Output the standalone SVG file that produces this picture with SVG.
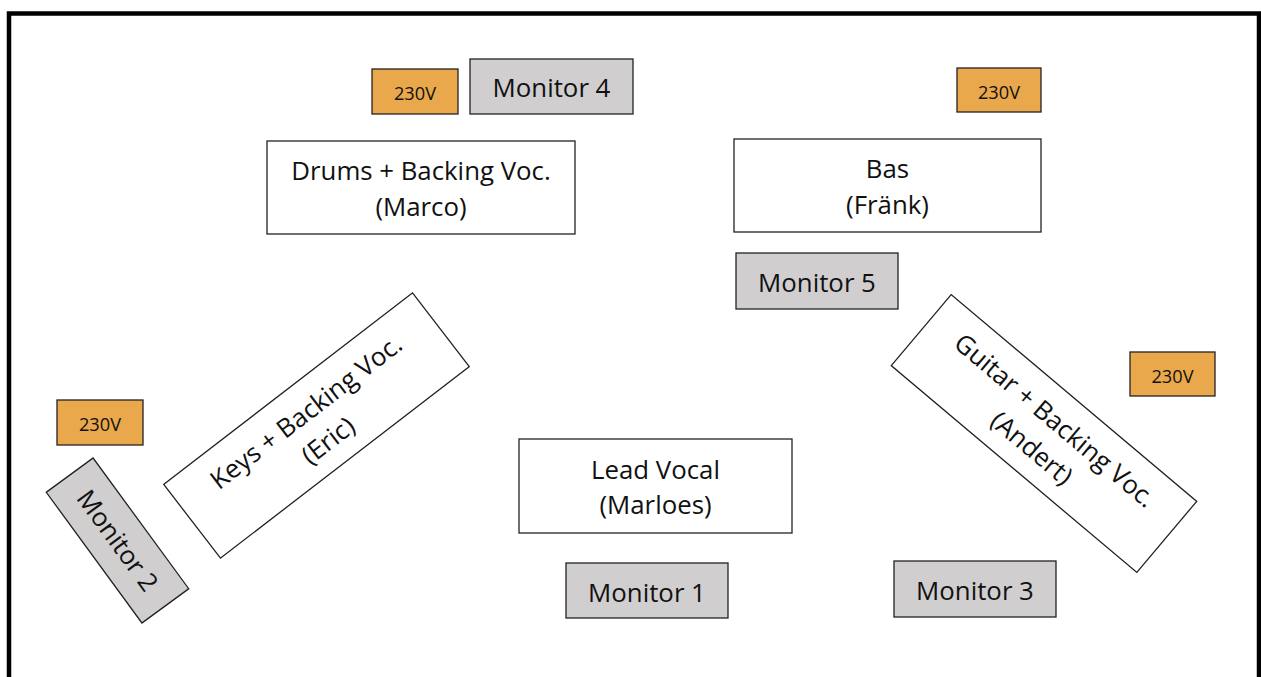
<svg xmlns="http://www.w3.org/2000/svg" width="1261" height="677" viewBox="0 0 1261 677">
<style>
.box{fill:#ffffff;stroke:#222;stroke-width:1.3}
.mon{fill:#d0cece;stroke:#222;stroke-width:1.3}
.pwr{fill:#e9a84b;stroke:#222;stroke-width:1.3}
text{font-family:"Open Sans","Liberation Sans",sans-serif;fill:#111;text-anchor:middle}
.big{font-size:25.8px}
.sm{font-size:18.2px}
</style>
<rect x="0" y="0" width="1261" height="677" fill="#ffffff"/>
<rect id="frame" x="9" y="13.5" width="1250" height="700" fill="none" stroke="#000" stroke-width="4.5"/>
<g id="connectors"></g>
<g id="pwr-top-left"><rect class="pwr" x="372" y="69" width="86" height="45"/><text class="sm" x="415" y="99.5">230V</text></g>
<g id="monitor4"><rect class="mon" x="470" y="59" width="163" height="55"/><text class="big" x="551.5" y="97">Monitor 4</text></g>
<g id="drums"><rect class="box" x="267" y="141" width="308" height="93"/><text class="big" x="421" y="180">Drums + Backing Voc.</text><text class="big" x="421" y="216">(Marco)</text></g>
<g id="pwr-top-right"><rect class="pwr" x="957" y="68" width="84" height="44"/><text class="sm" x="999" y="98.5">230V</text></g>
<g id="bas"><rect class="box" x="734" y="139" width="307" height="93"/><text class="big" x="887.5" y="178">Bas</text><text class="big" x="887.5" y="214">(Fränk)</text></g>
<g id="monitor5"><rect class="mon" x="736" y="253" width="162" height="56"/><text class="big" x="817" y="292">Monitor 5</text></g>
<g id="pwr-right"><rect class="pwr" x="1130" y="352" width="85" height="44"/><text class="sm" x="1172.5" y="382.5">230V</text></g>
<g id="pwr-left"><rect class="pwr" x="57" y="400" width="86" height="45"/><text class="sm" x="100" y="430.5">230V</text></g>
<g id="keys" transform="translate(316.5 425.5) rotate(-37.6)"><rect class="box" x="-157" y="-46.5" width="314" height="93"/><text class="big" x="0" y="-8">Keys + Backing Voc.</text><text class="big" x="0" y="28">(Eric)</text></g>
<g id="monitor2" transform="translate(117.5 540.5) rotate(53.8)"><rect class="mon" x="-81" y="-29" width="162" height="58"/><text class="big" x="0" y="9">Monitor 2</text></g>
<g id="lead"><rect class="box" x="519" y="439" width="273" height="94"/><text class="big" x="655.5" y="478.5">Lead Vocal</text><text class="big" x="655.5" y="514">(Marloes)</text></g>
<g id="monitor1"><rect class="mon" x="566" y="563" width="162" height="55"/><text class="big" x="647" y="601.5">Monitor 1</text></g>
<g id="guitar" transform="translate(1044 433.5) rotate(40.1)"><rect class="box" x="-160.5" y="-46.5" width="321" height="93"/><text class="big" x="0" y="-8">Guitar + Backing Voc.</text><text class="big" x="0" y="28">(Andert)</text></g>
<g id="monitor3"><rect class="mon" x="894" y="561" width="162" height="56"/><text class="big" x="975" y="600">Monitor 3</text></g>
</svg>
